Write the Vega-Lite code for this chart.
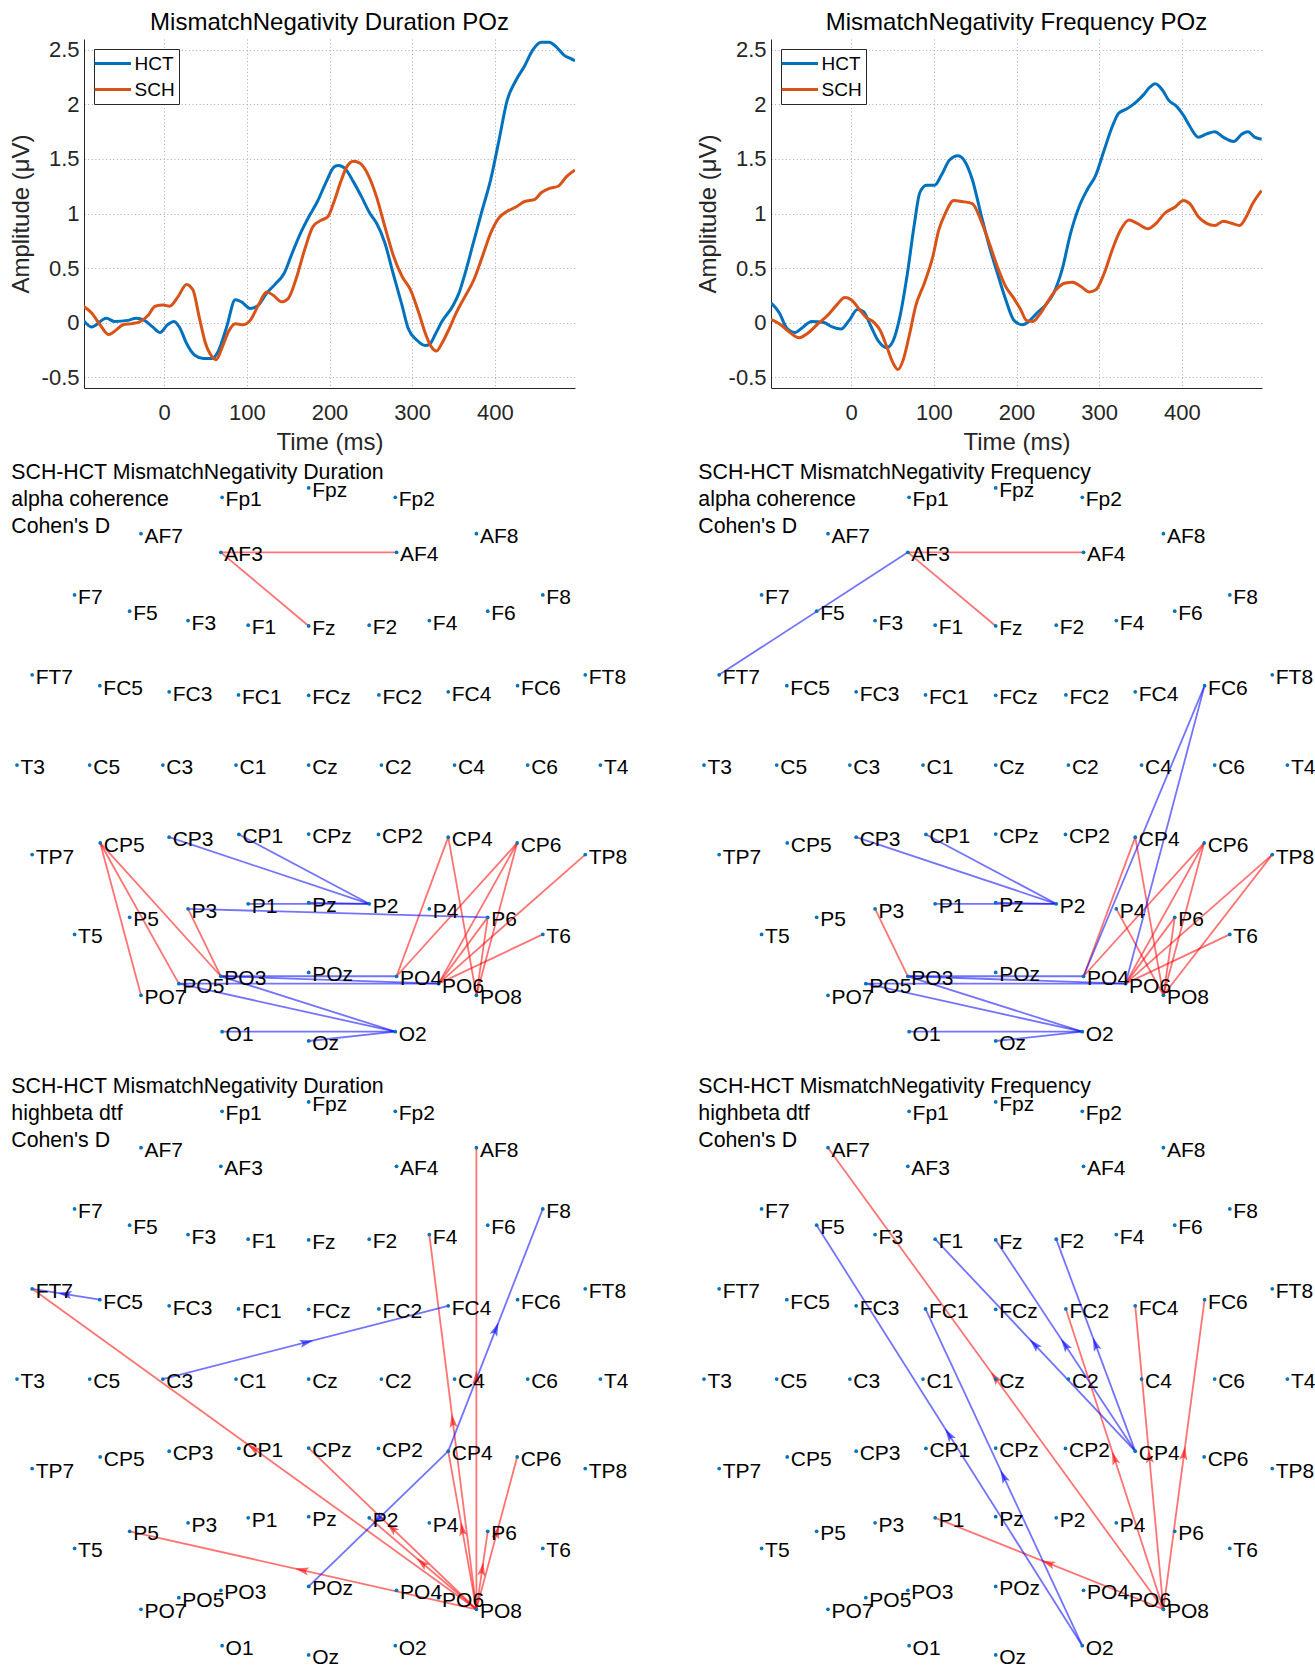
{
"$schema": "https://vega.github.io/schema/vega-lite/v6.json",
"background": "white",
"padding": {"left": 9, "top": 10, "right": 0, "bottom": 0},
"config": {"font": "Liberation Sans", "view": {"stroke": null},
  "axis": {"domainColor": "#262626", "labelColor": "#262626", "titleColor": "#262626", "labelFontSize": 22, "titleFontSize": 24, "titleFontWeight": "normal", "ticks": false, "gridColor": "#a8a8a8", "gridDash": [1, 2.6], "gridWidth": 1},
  "title": {"fontSize": 24, "fontWeight": "normal", "color": "#000000"}},
"resolve": {"scale": {"color": "independent"}, "legend": {"color": "independent"}},
"datasets": {
"electrodes": [
{"name":"Fp1","x":-206,"y":691},{"name":"Fpz","x":0,"y":715},{"name":"Fp2","x":206,"y":691},
{"name":"AF7","x":-399,"y":597},{"name":"AF3","x":-209,"y":549},{"name":"AF4","x":209,"y":549},{"name":"AF8","x":399,"y":597},
{"name":"F7","x":-557,"y":439},{"name":"F5","x":-426,"y":397},{"name":"F3","x":-287,"y":373},{"name":"F1","x":-144,"y":361},{"name":"Fz","x":0,"y":359},{"name":"F2","x":144,"y":361},{"name":"F4","x":287,"y":373},{"name":"F6","x":426,"y":397},{"name":"F8","x":557,"y":439},
{"name":"FT7","x":-658,"y":233},{"name":"FC5","x":-497,"y":205},{"name":"FC3","x":-332,"y":189},{"name":"FC1","x":-167,"y":181},{"name":"FCz","x":0,"y":180},{"name":"FC2","x":167,"y":181},{"name":"FC4","x":332,"y":189},{"name":"FC6","x":497,"y":205},{"name":"FT8","x":658,"y":233},
{"name":"T3","x":-694,"y":0},{"name":"C5","x":-521,"y":0},{"name":"C3","x":-347,"y":0},{"name":"C1","x":-173,"y":0},{"name":"Cz","x":0,"y":0},{"name":"C2","x":173,"y":0},{"name":"C4","x":347,"y":0},{"name":"C6","x":521,"y":0},{"name":"T4","x":694,"y":0},
{"name":"TP7","x":-658,"y":-231},{"name":"CP5","x":-496,"y":-201},{"name":"CP3","x":-332,"y":-186},{"name":"CP1","x":-166,"y":-179},{"name":"CPz","x":0,"y":-178},{"name":"CP2","x":166,"y":-179},{"name":"CP4","x":332,"y":-186},{"name":"CP6","x":496,"y":-201},{"name":"TP8","x":658,"y":-231},
{"name":"T5","x":-557,"y":-437},{"name":"P5","x":-426,"y":-393},{"name":"P3","x":-287,"y":-371},{"name":"P1","x":-144,"y":-358},{"name":"Pz","x":0,"y":-355},{"name":"P2","x":144,"y":-358},{"name":"P4","x":287,"y":-371},{"name":"P6","x":426,"y":-393},{"name":"T6","x":557,"y":-437},
{"name":"PO7","x":-399,"y":-594},{"name":"PO5","x":-309,"y":-564},{"name":"PO3","x":-209,"y":-545},{"name":"POz","x":0,"y":-535},{"name":"PO4","x":209,"y":-545},{"name":"PO6","x":309,"y":-564},{"name":"PO8","x":399,"y":-594},
{"name":"O1","x":-206,"y":-688},{"name":"Oz","x":0,"y":-712},{"name":"O2","x":206,"y":-688}
],
"links": [
{"panel":"dur_coh","from":"AF3","to":"AF4","sign":"positive"},
{"panel":"dur_coh","from":"AF3","to":"Fz","sign":"positive"},
{"panel":"dur_coh","from":"CP5","to":"PO7","sign":"positive"},
{"panel":"dur_coh","from":"CP5","to":"PO5","sign":"positive"},
{"panel":"dur_coh","from":"CP5","to":"PO3","sign":"positive"},
{"panel":"dur_coh","from":"P3","to":"PO3","sign":"positive"},
{"panel":"dur_coh","from":"CP4","to":"PO4","sign":"positive"},
{"panel":"dur_coh","from":"CP4","to":"PO8","sign":"positive"},
{"panel":"dur_coh","from":"CP6","to":"PO4","sign":"positive"},
{"panel":"dur_coh","from":"CP6","to":"PO6","sign":"positive"},
{"panel":"dur_coh","from":"CP6","to":"PO8","sign":"positive"},
{"panel":"dur_coh","from":"TP8","to":"PO6","sign":"positive"},
{"panel":"dur_coh","from":"T6","to":"PO6","sign":"positive"},
{"panel":"dur_coh","from":"P6","to":"PO6","sign":"positive"},
{"panel":"dur_coh","from":"P6","to":"PO8","sign":"positive"},
{"panel":"dur_coh","from":"CP3","to":"P2","sign":"negative"},
{"panel":"dur_coh","from":"CP1","to":"P2","sign":"negative"},
{"panel":"dur_coh","from":"P1","to":"P2","sign":"negative"},
{"panel":"dur_coh","from":"Pz","to":"P2","sign":"negative"},
{"panel":"dur_coh","from":"P3","to":"P6","sign":"negative"},
{"panel":"dur_coh","from":"PO5","to":"PO6","sign":"negative"},
{"panel":"dur_coh","from":"PO3","to":"PO4","sign":"negative"},
{"panel":"dur_coh","from":"PO3","to":"PO6","sign":"negative"},
{"panel":"dur_coh","from":"PO5","to":"O2","sign":"negative"},
{"panel":"dur_coh","from":"PO3","to":"O2","sign":"negative"},
{"panel":"dur_coh","from":"O1","to":"O2","sign":"negative"},
{"panel":"dur_coh","from":"Oz","to":"O2","sign":"negative"},
{"panel":"freq_coh","from":"AF3","to":"AF4","sign":"positive"},
{"panel":"freq_coh","from":"AF3","to":"Fz","sign":"positive"},
{"panel":"freq_coh","from":"P3","to":"PO3","sign":"positive"},
{"panel":"freq_coh","from":"CP4","to":"PO4","sign":"positive"},
{"panel":"freq_coh","from":"CP4","to":"PO8","sign":"positive"},
{"panel":"freq_coh","from":"P4","to":"PO8","sign":"positive"},
{"panel":"freq_coh","from":"CP6","to":"PO4","sign":"positive"},
{"panel":"freq_coh","from":"CP6","to":"PO6","sign":"positive"},
{"panel":"freq_coh","from":"CP6","to":"PO8","sign":"positive"},
{"panel":"freq_coh","from":"TP8","to":"PO6","sign":"positive"},
{"panel":"freq_coh","from":"TP8","to":"PO8","sign":"positive"},
{"panel":"freq_coh","from":"P6","to":"PO6","sign":"positive"},
{"panel":"freq_coh","from":"P6","to":"PO8","sign":"positive"},
{"panel":"freq_coh","from":"T6","to":"PO6","sign":"positive"},
{"panel":"freq_coh","from":"AF3","to":"FT7","sign":"negative"},
{"panel":"freq_coh","from":"FC6","to":"PO4","sign":"negative"},
{"panel":"freq_coh","from":"FC6","to":"PO6","sign":"negative"},
{"panel":"freq_coh","from":"CP3","to":"P2","sign":"negative"},
{"panel":"freq_coh","from":"CP1","to":"P2","sign":"negative"},
{"panel":"freq_coh","from":"P1","to":"P2","sign":"negative"},
{"panel":"freq_coh","from":"Pz","to":"P2","sign":"negative"},
{"panel":"freq_coh","from":"PO3","to":"PO4","sign":"negative"},
{"panel":"freq_coh","from":"PO5","to":"PO6","sign":"negative"},
{"panel":"freq_coh","from":"PO3","to":"PO6","sign":"negative"},
{"panel":"freq_coh","from":"PO5","to":"O2","sign":"negative"},
{"panel":"freq_coh","from":"PO3","to":"O2","sign":"negative"},
{"panel":"freq_coh","from":"O1","to":"O2","sign":"negative"},
{"panel":"freq_coh","from":"Oz","to":"O2","sign":"negative"},
{"panel":"dur_dtf","from":"PO8","to":"FT7","sign":"positive"},
{"panel":"dur_dtf","from":"PO8","to":"AF8","sign":"positive"},
{"panel":"dur_dtf","from":"PO8","to":"F4","sign":"positive"},
{"panel":"dur_dtf","from":"PO8","to":"CPz","sign":"positive"},
{"panel":"dur_dtf","from":"PO8","to":"P2","sign":"positive"},
{"panel":"dur_dtf","from":"PO8","to":"P5","sign":"positive"},
{"panel":"dur_dtf","from":"PO8","to":"CP6","sign":"positive"},
{"panel":"dur_dtf","from":"PO8","to":"P6","sign":"positive"},
{"panel":"dur_dtf","from":"PO8","to":"CP4","sign":"positive"},
{"panel":"dur_dtf","from":"FC5","to":"FT7","sign":"negative"},
{"panel":"dur_dtf","from":"C3","to":"FC4","sign":"negative"},
{"panel":"dur_dtf","from":"CP4","to":"F8","sign":"negative"},
{"panel":"dur_dtf","from":"CP4","to":"POz","sign":"negative"},
{"panel":"freq_dtf","from":"PO8","to":"AF7","sign":"positive"},
{"panel":"freq_dtf","from":"PO8","to":"P1","sign":"positive"},
{"panel":"freq_dtf","from":"PO8","to":"FC2","sign":"positive"},
{"panel":"freq_dtf","from":"PO8","to":"FC4","sign":"positive"},
{"panel":"freq_dtf","from":"PO8","to":"FC6","sign":"positive"},
{"panel":"freq_dtf","from":"CP4","to":"F1","sign":"negative"},
{"panel":"freq_dtf","from":"CP4","to":"Fz","sign":"negative"},
{"panel":"freq_dtf","from":"CP4","to":"F2","sign":"negative"},
{"panel":"freq_dtf","from":"O2","to":"F5","sign":"negative"},
{"panel":"freq_dtf","from":"O2","to":"FC1","sign":"negative"}
],
"erp": [
{"cond":"Duration","group":"HCT","time":-97.6,"amp":0.02},{"cond":"Duration","group":"HCT","time":-88,"amp":-0.04},{"cond":"Duration","group":"HCT","time":-70,"amp":0.04},{"cond":"Duration","group":"HCT","time":-60,"amp":0.01},{"cond":"Duration","group":"HCT","time":-44,"amp":0.02},{"cond":"Duration","group":"HCT","time":-34,"amp":0.04},{"cond":"Duration","group":"HCT","time":-24,"amp":0.02},{"cond":"Duration","group":"HCT","time":-14,"amp":-0.04},{"cond":"Duration","group":"HCT","time":-5,"amp":-0.09},{"cond":"Duration","group":"HCT","time":4,"amp":-0.02},{"cond":"Duration","group":"HCT","time":12,"amp":0.01},{"cond":"Duration","group":"HCT","time":19,"amp":-0.05},{"cond":"Duration","group":"HCT","time":27,"amp":-0.19},{"cond":"Duration","group":"HCT","time":37,"amp":-0.30},{"cond":"Duration","group":"HCT","time":47.5,"amp":-0.33},{"cond":"Duration","group":"HCT","time":58,"amp":-0.33},{"cond":"Duration","group":"HCT","time":65,"amp":-0.27},{"cond":"Duration","group":"HCT","time":75.6,"amp":-0.04},{"cond":"Duration","group":"HCT","time":86,"amp":0.21},{"cond":"Duration","group":"HCT","time":93.5,"amp":0.19},{"cond":"Duration","group":"HCT","time":104,"amp":0.13},{"cond":"Duration","group":"HCT","time":114,"amp":0.16},{"cond":"Duration","group":"HCT","time":124,"amp":0.27},{"cond":"Duration","group":"HCT","time":134,"amp":0.35},{"cond":"Duration","group":"HCT","time":145,"amp":0.45},{"cond":"Duration","group":"HCT","time":155,"amp":0.64},{"cond":"Duration","group":"HCT","time":165,"amp":0.82},{"cond":"Duration","group":"HCT","time":175,"amp":0.97},{"cond":"Duration","group":"HCT","time":185.4,"amp":1.11},{"cond":"Duration","group":"HCT","time":196,"amp":1.29},{"cond":"Duration","group":"HCT","time":206,"amp":1.43},{"cond":"Duration","group":"HCT","time":211,"amp":1.44},{"cond":"Duration","group":"HCT","time":219,"amp":1.41},{"cond":"Duration","group":"HCT","time":229,"amp":1.29},{"cond":"Duration","group":"HCT","time":239,"amp":1.15},{"cond":"Duration","group":"HCT","time":249,"amp":1.0},{"cond":"Duration","group":"HCT","time":257,"amp":0.91},{"cond":"Duration","group":"HCT","time":267,"amp":0.73},{"cond":"Duration","group":"HCT","time":277,"amp":0.45},{"cond":"Duration","group":"HCT","time":288,"amp":0.15},{"cond":"Duration","group":"HCT","time":295,"amp":-0.05},{"cond":"Duration","group":"HCT","time":305.5,"amp":-0.16},{"cond":"Duration","group":"HCT","time":316,"amp":-0.21},{"cond":"Duration","group":"HCT","time":321,"amp":-0.2},{"cond":"Duration","group":"HCT","time":328.5,"amp":-0.1},{"cond":"Duration","group":"HCT","time":336,"amp":0.01},{"cond":"Duration","group":"HCT","time":349,"amp":0.15},{"cond":"Duration","group":"HCT","time":356.6,"amp":0.27},{"cond":"Duration","group":"HCT","time":364,"amp":0.45},{"cond":"Duration","group":"HCT","time":374,"amp":0.73},{"cond":"Duration","group":"HCT","time":384.7,"amp":1.03},{"cond":"Duration","group":"HCT","time":395,"amp":1.31},{"cond":"Duration","group":"HCT","time":405,"amp":1.67},{"cond":"Duration","group":"HCT","time":415,"amp":2.04},{"cond":"Duration","group":"HCT","time":425.5,"amp":2.22},{"cond":"Duration","group":"HCT","time":435.8,"amp":2.35},{"cond":"Duration","group":"HCT","time":446,"amp":2.5},{"cond":"Duration","group":"HCT","time":456,"amp":2.57},{"cond":"Duration","group":"HCT","time":466,"amp":2.57},{"cond":"Duration","group":"HCT","time":474,"amp":2.53},{"cond":"Duration","group":"HCT","time":484,"amp":2.45},{"cond":"Duration","group":"HCT","time":492,"amp":2.42},{"cond":"Duration","group":"HCT","time":497,"amp":2.4},
{"cond":"Duration","group":"SCH","time":-97.6,"amp":0.15},{"cond":"Duration","group":"SCH","time":-88,"amp":0.09},{"cond":"Duration","group":"SCH","time":-77.6,"amp":-0.02},{"cond":"Duration","group":"SCH","time":-67,"amp":-0.11},{"cond":"Duration","group":"SCH","time":-60,"amp":-0.08},{"cond":"Duration","group":"SCH","time":-49.6,"amp":-0.02},{"cond":"Duration","group":"SCH","time":-39,"amp":-0.01},{"cond":"Duration","group":"SCH","time":-29,"amp":0.01},{"cond":"Duration","group":"SCH","time":-19,"amp":0.07},{"cond":"Duration","group":"SCH","time":-11,"amp":0.15},{"cond":"Duration","group":"SCH","time":-1,"amp":0.16},{"cond":"Duration","group":"SCH","time":6.6,"amp":0.15},{"cond":"Duration","group":"SCH","time":17,"amp":0.24},{"cond":"Duration","group":"SCH","time":27,"amp":0.35},{"cond":"Duration","group":"SCH","time":34.7,"amp":0.3},{"cond":"Duration","group":"SCH","time":42.4,"amp":0.05},{"cond":"Duration","group":"SCH","time":50,"amp":-0.19},{"cond":"Duration","group":"SCH","time":57.7,"amp":-0.31},{"cond":"Duration","group":"SCH","time":62.8,"amp":-0.34},{"cond":"Duration","group":"SCH","time":70.5,"amp":-0.22},{"cond":"Duration","group":"SCH","time":78,"amp":-0.08},{"cond":"Duration","group":"SCH","time":86,"amp":-0.01},{"cond":"Duration","group":"SCH","time":96,"amp":-0.02},{"cond":"Duration","group":"SCH","time":104,"amp":0.02},{"cond":"Duration","group":"SCH","time":114,"amp":0.16},{"cond":"Duration","group":"SCH","time":124,"amp":0.28},{"cond":"Duration","group":"SCH","time":132,"amp":0.25},{"cond":"Duration","group":"SCH","time":142,"amp":0.19},{"cond":"Duration","group":"SCH","time":150,"amp":0.22},{"cond":"Duration","group":"SCH","time":160,"amp":0.41},{"cond":"Duration","group":"SCH","time":170,"amp":0.67},{"cond":"Duration","group":"SCH","time":180,"amp":0.88},{"cond":"Duration","group":"SCH","time":190.5,"amp":0.94},{"cond":"Duration","group":"SCH","time":198,"amp":0.97},{"cond":"Duration","group":"SCH","time":206,"amp":1.12},{"cond":"Duration","group":"SCH","time":213.5,"amp":1.29},{"cond":"Duration","group":"SCH","time":221,"amp":1.43},{"cond":"Duration","group":"SCH","time":229,"amp":1.48},{"cond":"Duration","group":"SCH","time":237,"amp":1.46},{"cond":"Duration","group":"SCH","time":247,"amp":1.35},{"cond":"Duration","group":"SCH","time":257,"amp":1.15},{"cond":"Duration","group":"SCH","time":267,"amp":0.88},{"cond":"Duration","group":"SCH","time":277,"amp":0.62},{"cond":"Duration","group":"SCH","time":288,"amp":0.42},{"cond":"Duration","group":"SCH","time":298,"amp":0.3},{"cond":"Duration","group":"SCH","time":308,"amp":0.09},{"cond":"Duration","group":"SCH","time":316,"amp":-0.1},{"cond":"Duration","group":"SCH","time":323,"amp":-0.22},{"cond":"Duration","group":"SCH","time":329.5,"amp":-0.26},{"cond":"Duration","group":"SCH","time":336,"amp":-0.19},{"cond":"Duration","group":"SCH","time":344,"amp":-0.07},{"cond":"Duration","group":"SCH","time":354,"amp":0.1},{"cond":"Duration","group":"SCH","time":364,"amp":0.24},{"cond":"Duration","group":"SCH","time":374.5,"amp":0.39},{"cond":"Duration","group":"SCH","time":384.7,"amp":0.6},{"cond":"Duration","group":"SCH","time":395,"amp":0.82},{"cond":"Duration","group":"SCH","time":405,"amp":0.96},{"cond":"Duration","group":"SCH","time":415,"amp":1.02},{"cond":"Duration","group":"SCH","time":425.5,"amp":1.06},{"cond":"Duration","group":"SCH","time":436,"amp":1.11},{"cond":"Duration","group":"SCH","time":448.5,"amp":1.13},{"cond":"Duration","group":"SCH","time":456,"amp":1.19},{"cond":"Duration","group":"SCH","time":466,"amp":1.23},{"cond":"Duration","group":"SCH","time":476.6,"amp":1.25},{"cond":"Duration","group":"SCH","time":487,"amp":1.34},{"cond":"Duration","group":"SCH","time":497,"amp":1.4},
{"cond":"Frequency","group":"HCT","time":-97,"amp":0.18},{"cond":"Frequency","group":"HCT","time":-87,"amp":0.09},{"cond":"Frequency","group":"HCT","time":-78,"amp":-0.05},{"cond":"Frequency","group":"HCT","time":-68,"amp":-0.09},{"cond":"Frequency","group":"HCT","time":-58,"amp":-0.04},{"cond":"Frequency","group":"HCT","time":-48,"amp":0.01},{"cond":"Frequency","group":"HCT","time":-33,"amp":0.0},{"cond":"Frequency","group":"HCT","time":-23,"amp":-0.04},{"cond":"Frequency","group":"HCT","time":-12.6,"amp":-0.06},{"cond":"Frequency","group":"HCT","time":-2.5,"amp":0.02},{"cond":"Frequency","group":"HCT","time":7.6,"amp":0.12},{"cond":"Frequency","group":"HCT","time":15,"amp":0.1},{"cond":"Frequency","group":"HCT","time":23,"amp":-0.02},{"cond":"Frequency","group":"HCT","time":33,"amp":-0.17},{"cond":"Frequency","group":"HCT","time":43,"amp":-0.23},{"cond":"Frequency","group":"HCT","time":50.6,"amp":-0.17},{"cond":"Frequency","group":"HCT","time":58,"amp":0.02},{"cond":"Frequency","group":"HCT","time":68,"amp":0.45},{"cond":"Frequency","group":"HCT","time":76,"amp":0.88},{"cond":"Frequency","group":"HCT","time":83,"amp":1.19},{"cond":"Frequency","group":"HCT","time":91,"amp":1.26},{"cond":"Frequency","group":"HCT","time":101,"amp":1.26},{"cond":"Frequency","group":"HCT","time":109,"amp":1.35},{"cond":"Frequency","group":"HCT","time":119,"amp":1.49},{"cond":"Frequency","group":"HCT","time":129,"amp":1.53},{"cond":"Frequency","group":"HCT","time":136.5,"amp":1.49},{"cond":"Frequency","group":"HCT","time":146.6,"amp":1.31},{"cond":"Frequency","group":"HCT","time":156.8,"amp":1.0},{"cond":"Frequency","group":"HCT","time":167,"amp":0.7},{"cond":"Frequency","group":"HCT","time":177,"amp":0.45},{"cond":"Frequency","group":"HCT","time":187,"amp":0.21},{"cond":"Frequency","group":"HCT","time":197,"amp":0.02},{"cond":"Frequency","group":"HCT","time":207,"amp":-0.02},{"cond":"Frequency","group":"HCT","time":215,"amp":0.01},{"cond":"Frequency","group":"HCT","time":225,"amp":0.09},{"cond":"Frequency","group":"HCT","time":235,"amp":0.16},{"cond":"Frequency","group":"HCT","time":245,"amp":0.27},{"cond":"Frequency","group":"HCT","time":255,"amp":0.48},{"cond":"Frequency","group":"HCT","time":265.5,"amp":0.82},{"cond":"Frequency","group":"HCT","time":275.6,"amp":1.06},{"cond":"Frequency","group":"HCT","time":285.7,"amp":1.22},{"cond":"Frequency","group":"HCT","time":295.8,"amp":1.35},{"cond":"Frequency","group":"HCT","time":306,"amp":1.58},{"cond":"Frequency","group":"HCT","time":316,"amp":1.8},{"cond":"Frequency","group":"HCT","time":323.6,"amp":1.92},{"cond":"Frequency","group":"HCT","time":333.7,"amp":1.96},{"cond":"Frequency","group":"HCT","time":346,"amp":2.03},{"cond":"Frequency","group":"HCT","time":353.8,"amp":2.09},{"cond":"Frequency","group":"HCT","time":361.6,"amp":2.16},{"cond":"Frequency","group":"HCT","time":368,"amp":2.19},{"cond":"Frequency","group":"HCT","time":376.7,"amp":2.13},{"cond":"Frequency","group":"HCT","time":384,"amp":2.04},{"cond":"Frequency","group":"HCT","time":394,"amp":1.98},{"cond":"Frequency","group":"HCT","time":402,"amp":1.9},{"cond":"Frequency","group":"HCT","time":409.6,"amp":1.8},{"cond":"Frequency","group":"HCT","time":420,"amp":1.7},{"cond":"Frequency","group":"HCT","time":430,"amp":1.73},{"cond":"Frequency","group":"HCT","time":440,"amp":1.75},{"cond":"Frequency","group":"HCT","time":450,"amp":1.7},{"cond":"Frequency","group":"HCT","time":462.7,"amp":1.66},{"cond":"Frequency","group":"HCT","time":473,"amp":1.73},{"cond":"Frequency","group":"HCT","time":480,"amp":1.75},{"cond":"Frequency","group":"HCT","time":488,"amp":1.7},{"cond":"Frequency","group":"HCT","time":496.6,"amp":1.68},
{"cond":"Frequency","group":"SCH","time":-97,"amp":0.03},{"cond":"Frequency","group":"SCH","time":-87,"amp":-0.01},{"cond":"Frequency","group":"SCH","time":-76,"amp":-0.08},{"cond":"Frequency","group":"SCH","time":-63,"amp":-0.14},{"cond":"Frequency","group":"SCH","time":-53,"amp":-0.1},{"cond":"Frequency","group":"SCH","time":-40,"amp":-0.01},{"cond":"Frequency","group":"SCH","time":-28,"amp":0.07},{"cond":"Frequency","group":"SCH","time":-17.7,"amp":0.16},{"cond":"Frequency","group":"SCH","time":-7.6,"amp":0.23},{"cond":"Frequency","group":"SCH","time":0,"amp":0.21},{"cond":"Frequency","group":"SCH","time":10,"amp":0.12},{"cond":"Frequency","group":"SCH","time":17.7,"amp":0.05},{"cond":"Frequency","group":"SCH","time":27.8,"amp":0.0},{"cond":"Frequency","group":"SCH","time":35,"amp":-0.07},{"cond":"Frequency","group":"SCH","time":43,"amp":-0.22},{"cond":"Frequency","group":"SCH","time":50.6,"amp":-0.37},{"cond":"Frequency","group":"SCH","time":56.6,"amp":-0.43},{"cond":"Frequency","group":"SCH","time":63,"amp":-0.34},{"cond":"Frequency","group":"SCH","time":70.8,"amp":-0.1},{"cond":"Frequency","group":"SCH","time":78,"amp":0.15},{"cond":"Frequency","group":"SCH","time":88.5,"amp":0.36},{"cond":"Frequency","group":"SCH","time":98.6,"amp":0.6},{"cond":"Frequency","group":"SCH","time":106,"amp":0.85},{"cond":"Frequency","group":"SCH","time":113.8,"amp":1.0},{"cond":"Frequency","group":"SCH","time":124,"amp":1.12},{"cond":"Frequency","group":"SCH","time":134,"amp":1.11},{"cond":"Frequency","group":"SCH","time":146.6,"amp":1.09},{"cond":"Frequency","group":"SCH","time":156.8,"amp":0.94},{"cond":"Frequency","group":"SCH","time":167,"amp":0.73},{"cond":"Frequency","group":"SCH","time":177,"amp":0.51},{"cond":"Frequency","group":"SCH","time":187,"amp":0.33},{"cond":"Frequency","group":"SCH","time":197,"amp":0.22},{"cond":"Frequency","group":"SCH","time":205,"amp":0.12},{"cond":"Frequency","group":"SCH","time":212,"amp":0.02},{"cond":"Frequency","group":"SCH","time":220,"amp":0.01},{"cond":"Frequency","group":"SCH","time":227.6,"amp":0.07},{"cond":"Frequency","group":"SCH","time":237.7,"amp":0.19},{"cond":"Frequency","group":"SCH","time":247.8,"amp":0.3},{"cond":"Frequency","group":"SCH","time":258,"amp":0.36},{"cond":"Frequency","group":"SCH","time":268,"amp":0.37},{"cond":"Frequency","group":"SCH","time":278,"amp":0.33},{"cond":"Frequency","group":"SCH","time":288,"amp":0.28},{"cond":"Frequency","group":"SCH","time":296,"amp":0.3},{"cond":"Frequency","group":"SCH","time":306,"amp":0.45},{"cond":"Frequency","group":"SCH","time":316,"amp":0.67},{"cond":"Frequency","group":"SCH","time":326,"amp":0.85},{"cond":"Frequency","group":"SCH","time":336,"amp":0.94},{"cond":"Frequency","group":"SCH","time":346,"amp":0.91},{"cond":"Frequency","group":"SCH","time":359,"amp":0.86},{"cond":"Frequency","group":"SCH","time":369,"amp":0.91},{"cond":"Frequency","group":"SCH","time":379,"amp":1.0},{"cond":"Frequency","group":"SCH","time":392,"amp":1.06},{"cond":"Frequency","group":"SCH","time":402,"amp":1.12},{"cond":"Frequency","group":"SCH","time":409.6,"amp":1.09},{"cond":"Frequency","group":"SCH","time":420,"amp":0.97},{"cond":"Frequency","group":"SCH","time":430,"amp":0.91},{"cond":"Frequency","group":"SCH","time":440,"amp":0.89},{"cond":"Frequency","group":"SCH","time":450,"amp":0.93},{"cond":"Frequency","group":"SCH","time":460,"amp":0.91},{"cond":"Frequency","group":"SCH","time":470,"amp":0.89},{"cond":"Frequency","group":"SCH","time":478,"amp":0.97},{"cond":"Frequency","group":"SCH","time":485.6,"amp":1.09},{"cond":"Frequency","group":"SCH","time":496.6,"amp":1.21}
]
},
"columns": 2,
"spacing": {"row": 60, "column": 196},
"bounds": "flush",
"concat": [
{
 "width": 491, "height": 349,
 "title": {"text": "MismatchNegativity Duration POz", "offset": -15, "baseline": "alphabetic"},
 "data": {"name": "erp"},
 "transform": [{"filter": "datum.cond === 'Duration'"}],
 "mark": {"type": "line", "strokeWidth": 3, "interpolate": "monotone", "clip": true},
 "encoding": {
  "x": {"field": "time", "type": "quantitative", "scale": {"domain": [-97, 497], "nice": false, "zero": false}, "axis": {"title": "Time (ms)", "values": [0, 100, 200, 300, 400], "labelPadding": 14, "titlePadding": 7}},
  "y": {"field": "amp", "type": "quantitative", "scale": {"domain": [-0.6, 2.6], "nice": false, "zero": false}, "axis": {"title": "Amplitude (μV)", "values": [-0.5, 0, 0.5, 1, 1.5, 2, 2.5], "labelExpr": "datum.value < 0 ? '-' + toString(-datum.value) : toString(datum.value)", "labelPadding": 5, "titlePadding": 8}},
  "color": {"field": "group", "type": "nominal", "scale": {"domain": ["HCT", "SCH"], "range": ["#0072BD", "#D95319"]},
   "legend": {"title": null, "orient": "none", "legendX": 10, "legendY": 10, "fillColor": "white", "strokeColor": "#262626", "padding": 4, "symbolType": "M-1.6,0L2.6,0", "symbolSize": 300, "symbolStrokeWidth": 3, "labelFontSize": 19, "labelColor": "#000000", "labelOffset": 15.5, "rowPadding": 5}}
 }
},
{
 "width": 491, "height": 349,
 "title": {"text": "MismatchNegativity Frequency POz", "offset": -15, "baseline": "alphabetic"},
 "data": {"name": "erp"},
 "transform": [{"filter": "datum.cond === 'Frequency'"}],
 "mark": {"type": "line", "strokeWidth": 3, "interpolate": "monotone", "clip": true},
 "encoding": {
  "x": {"field": "time", "type": "quantitative", "scale": {"domain": [-97, 497], "nice": false, "zero": false}, "axis": {"title": "Time (ms)", "values": [0, 100, 200, 300, 400], "labelPadding": 14, "titlePadding": 7}},
  "y": {"field": "amp", "type": "quantitative", "scale": {"domain": [-0.6, 2.6], "nice": false, "zero": false}, "axis": {"title": "Amplitude (μV)", "values": [-0.5, 0, 0.5, 1, 1.5, 2, 2.5], "labelExpr": "datum.value < 0 ? '-' + toString(-datum.value) : toString(datum.value)", "labelPadding": 5, "titlePadding": 8}},
  "color": {"field": "group", "type": "nominal", "scale": {"domain": ["HCT", "SCH"], "range": ["#0072BD", "#D95319"]},
   "legend": {"title": null, "orient": "none", "legendX": 10, "legendY": 10, "fillColor": "white", "strokeColor": "#262626", "padding": 4, "symbolType": "M-1.6,0L2.6,0", "symbolSize": 300, "symbolStrokeWidth": 3, "labelFontSize": 19, "labelColor": "#000000", "labelOffset": 15.5, "rowPadding": 5}}
 }
},
{
 "width": 491, "height": 554,
 "title": {"text": ["SCH-HCT MismatchNegativity Duration", "alpha coherence", "Cohen's D"], "anchor": "start", "frame": "group", "dx": -72.7, "dy": 106, "offset": 0, "fontSize": 21.3, "lineHeight": 26.7, "baseline": "alphabetic"},
 "layer": [
  {"data": {"name": "links"}, "transform": [{"filter": "datum.panel === 'dur_coh'"}, {"lookup": "from", "from": {"data": {"name": "electrodes"}, "key": "name", "fields": ["x", "y"]}, "as": ["x1", "y1"]}, {"lookup": "to", "from": {"data": {"name": "electrodes"}, "key": "name", "fields": ["x", "y"]}, "as": ["x2", "y2"]}],
   "mark": {"type": "rule", "strokeWidth": 1.8, "opacity": 0.55},
   "encoding": {"x": {"field": "x1", "type": "quantitative", "scale": {"domain": [-534.6, 633.6], "nice": false, "zero": false}, "axis": null}, "y": {"field": "y1", "type": "quantitative", "scale": {"domain": [-611.4, 818.2], "nice": false, "zero": false}, "axis": null}, "x2": {"field": "x2"}, "y2": {"field": "y2"}, "color": {"field": "sign", "type": "nominal", "scale": {"domain": ["positive", "negative"], "range": ["#ff0000", "#0000ff"]}, "legend": null}}},
  {"data": {"name": "electrodes"}, "mark": {"type": "point", "filled": true, "size": 14, "color": "#0072BD", "opacity": 1}, "encoding": {"x": {"field": "x", "type": "quantitative"}, "y": {"field": "y", "type": "quantitative"}}},
  {"data": {"name": "electrodes"}, "mark": {"type": "text", "align": "left", "baseline": "alphabetic", "dx": 3.5, "dy": 9, "fontSize": 21, "color": "#000000"}, "encoding": {"x": {"field": "x", "type": "quantitative"}, "y": {"field": "y", "type": "quantitative"}, "text": {"field": "name"}}}
 ]
},
{
 "width": 491, "height": 554,
 "title": {"text": ["SCH-HCT MismatchNegativity Frequency", "alpha coherence", "Cohen's D"], "anchor": "start", "frame": "group", "dx": -72.7, "dy": 106, "offset": 0, "fontSize": 21.3, "lineHeight": 26.7, "baseline": "alphabetic"},
 "layer": [
  {"data": {"name": "links"}, "transform": [{"filter": "datum.panel === 'freq_coh'"}, {"lookup": "from", "from": {"data": {"name": "electrodes"}, "key": "name", "fields": ["x", "y"]}, "as": ["x1", "y1"]}, {"lookup": "to", "from": {"data": {"name": "electrodes"}, "key": "name", "fields": ["x", "y"]}, "as": ["x2", "y2"]}],
   "mark": {"type": "rule", "strokeWidth": 1.8, "opacity": 0.55},
   "encoding": {"x": {"field": "x1", "type": "quantitative", "scale": {"domain": [-534.6, 633.6], "nice": false, "zero": false}, "axis": null}, "y": {"field": "y1", "type": "quantitative", "scale": {"domain": [-611.4, 818.2], "nice": false, "zero": false}, "axis": null}, "x2": {"field": "x2"}, "y2": {"field": "y2"}, "color": {"field": "sign", "type": "nominal", "scale": {"domain": ["positive", "negative"], "range": ["#ff0000", "#0000ff"]}, "legend": null}}},
  {"data": {"name": "electrodes"}, "mark": {"type": "point", "filled": true, "size": 14, "color": "#0072BD", "opacity": 1}, "encoding": {"x": {"field": "x", "type": "quantitative"}, "y": {"field": "y", "type": "quantitative"}}},
  {"data": {"name": "electrodes"}, "mark": {"type": "text", "align": "left", "baseline": "alphabetic", "dx": 3.5, "dy": 9, "fontSize": 21, "color": "#000000"}, "encoding": {"x": {"field": "x", "type": "quantitative"}, "y": {"field": "y", "type": "quantitative"}, "text": {"field": "name"}}}
 ]
},
{
 "width": 491, "height": 554,
 "title": {"text": ["SCH-HCT MismatchNegativity Duration", "highbeta dtf", "Cohen's D"], "anchor": "start", "frame": "group", "dx": -72.7, "dy": 106, "offset": 0, "fontSize": 21.3, "lineHeight": 26.7, "baseline": "alphabetic"},
 "layer": [
  {"data": {"name": "links"}, "transform": [{"filter": "datum.panel === 'dur_dtf'"}, {"lookup": "from", "from": {"data": {"name": "electrodes"}, "key": "name", "fields": ["x", "y"]}, "as": ["x1", "y1"]}, {"lookup": "to", "from": {"data": {"name": "electrodes"}, "key": "name", "fields": ["x", "y"]}, "as": ["x2", "y2"]}],
   "mark": {"type": "rule", "strokeWidth": 1.8, "opacity": 0.55},
   "encoding": {"x": {"field": "x1", "type": "quantitative", "scale": {"domain": [-534.6, 633.6], "nice": false, "zero": false}, "axis": null}, "y": {"field": "y1", "type": "quantitative", "scale": {"domain": [-611.4, 818.2], "nice": false, "zero": false}, "axis": null}, "x2": {"field": "x2"}, "y2": {"field": "y2"}, "color": {"field": "sign", "type": "nominal", "scale": {"domain": ["positive", "negative"], "range": ["#ff0000", "#0000ff"]}, "legend": null}}},
  {"data": {"name": "links"}, "transform": [{"filter": "datum.panel === 'dur_dtf'"}, {"lookup": "from", "from": {"data": {"name": "electrodes"}, "key": "name", "fields": ["x", "y"]}, "as": ["x1", "y1"]}, {"lookup": "to", "from": {"data": {"name": "electrodes"}, "key": "name", "fields": ["x", "y"]}, "as": ["x2", "y2"]}, {"calculate": "(datum.x1 + datum.x2) / 2", "as": "xm"}, {"calculate": "(datum.y1 + datum.y2) / 2", "as": "ym"}, {"calculate": "atan2((datum.x2 - datum.x1) * 0.4203, (datum.y2 - datum.y1) * 0.3875) * 180 / PI", "as": "ang"}],
   "mark": {"type": "point", "shape": "M0,-1L0.5,0.7L0,0.35L-0.5,0.7Z", "filled": true, "size": 260, "opacity": 0.6},
   "encoding": {"x": {"field": "xm", "type": "quantitative"}, "y": {"field": "ym", "type": "quantitative"}, "angle": {"field": "ang", "type": "quantitative", "scale": null}, "color": {"field": "sign", "type": "nominal", "legend": null}}},
  {"data": {"name": "electrodes"}, "mark": {"type": "point", "filled": true, "size": 14, "color": "#0072BD", "opacity": 1}, "encoding": {"x": {"field": "x", "type": "quantitative"}, "y": {"field": "y", "type": "quantitative"}}},
  {"data": {"name": "electrodes"}, "mark": {"type": "text", "align": "left", "baseline": "alphabetic", "dx": 3.5, "dy": 9, "fontSize": 21, "color": "#000000"}, "encoding": {"x": {"field": "x", "type": "quantitative"}, "y": {"field": "y", "type": "quantitative"}, "text": {"field": "name"}}}
 ]
},
{
 "width": 491, "height": 554,
 "title": {"text": ["SCH-HCT MismatchNegativity Frequency", "highbeta dtf", "Cohen's D"], "anchor": "start", "frame": "group", "dx": -72.7, "dy": 106, "offset": 0, "fontSize": 21.3, "lineHeight": 26.7, "baseline": "alphabetic"},
 "layer": [
  {"data": {"name": "links"}, "transform": [{"filter": "datum.panel === 'freq_dtf'"}, {"lookup": "from", "from": {"data": {"name": "electrodes"}, "key": "name", "fields": ["x", "y"]}, "as": ["x1", "y1"]}, {"lookup": "to", "from": {"data": {"name": "electrodes"}, "key": "name", "fields": ["x", "y"]}, "as": ["x2", "y2"]}],
   "mark": {"type": "rule", "strokeWidth": 1.8, "opacity": 0.55},
   "encoding": {"x": {"field": "x1", "type": "quantitative", "scale": {"domain": [-534.6, 633.6], "nice": false, "zero": false}, "axis": null}, "y": {"field": "y1", "type": "quantitative", "scale": {"domain": [-611.4, 818.2], "nice": false, "zero": false}, "axis": null}, "x2": {"field": "x2"}, "y2": {"field": "y2"}, "color": {"field": "sign", "type": "nominal", "scale": {"domain": ["positive", "negative"], "range": ["#ff0000", "#0000ff"]}, "legend": null}}},
  {"data": {"name": "links"}, "transform": [{"filter": "datum.panel === 'freq_dtf'"}, {"lookup": "from", "from": {"data": {"name": "electrodes"}, "key": "name", "fields": ["x", "y"]}, "as": ["x1", "y1"]}, {"lookup": "to", "from": {"data": {"name": "electrodes"}, "key": "name", "fields": ["x", "y"]}, "as": ["x2", "y2"]}, {"calculate": "(datum.x1 + datum.x2) / 2", "as": "xm"}, {"calculate": "(datum.y1 + datum.y2) / 2", "as": "ym"}, {"calculate": "atan2((datum.x2 - datum.x1) * 0.4203, (datum.y2 - datum.y1) * 0.3875) * 180 / PI", "as": "ang"}],
   "mark": {"type": "point", "shape": "M0,-1L0.5,0.7L0,0.35L-0.5,0.7Z", "filled": true, "size": 260, "opacity": 0.6},
   "encoding": {"x": {"field": "xm", "type": "quantitative"}, "y": {"field": "ym", "type": "quantitative"}, "angle": {"field": "ang", "type": "quantitative", "scale": null}, "color": {"field": "sign", "type": "nominal", "legend": null}}},
  {"data": {"name": "electrodes"}, "mark": {"type": "point", "filled": true, "size": 14, "color": "#0072BD", "opacity": 1}, "encoding": {"x": {"field": "x", "type": "quantitative"}, "y": {"field": "y", "type": "quantitative"}}},
  {"data": {"name": "electrodes"}, "mark": {"type": "text", "align": "left", "baseline": "alphabetic", "dx": 3.5, "dy": 9, "fontSize": 21, "color": "#000000"}, "encoding": {"x": {"field": "x", "type": "quantitative"}, "y": {"field": "y", "type": "quantitative"}, "text": {"field": "name"}}}
 ]
}
]
}
